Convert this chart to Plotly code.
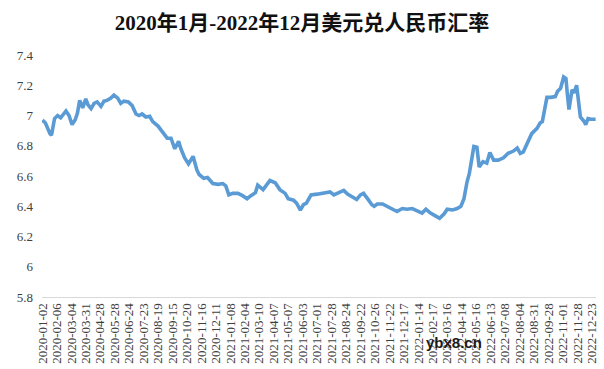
import plotly.graph_objects as go

# Tick labels (every 19th trading day)
tick_dates = [
    "2020-01-02", "2020-02-06", "2020-03-04", "2020-03-31", "2020-04-28", "2020-05-28",
    "2020-06-24", "2020-07-23", "2020-08-19", "2020-09-15", "2020-10-20", "2020-11-16",
    "2020-12-11", "2021-01-08", "2021-02-04", "2021-03-10", "2021-04-07", "2021-05-07",
    "2021-06-03", "2021-07-01", "2021-07-28", "2021-08-24", "2021-09-22", "2021-10-26",
    "2021-11-22", "2021-12-17", "2022-01-14", "2022-02-17", "2022-03-16", "2022-04-14",
    "2022-05-16", "2022-06-13", "2022-07-08", "2022-08-04", "2022-08-31", "2022-09-28",
    "2022-11-01", "2022-11-28", "2022-12-23",
]
tick_step = 19

# Trading-day index and USD/CNY rate
day_idx = [
    0, 4, 10, 12, 16, 20, 24, 31, 35, 39, 43, 46, 49, 53, 57, 60, 64, 68, 72, 77,
    81, 85, 90, 94, 99, 103, 107, 113, 118, 123, 127, 131, 136, 141, 145, 152, 158, 164, 169, 174,
    179, 182, 187, 192, 198, 203, 206, 212, 217, 224, 231, 237, 241, 245, 250, 257, 263, 269, 274, 280,
    283, 290, 293, 299, 306, 312, 319, 323, 330, 334, 339, 343, 347, 353, 361, 367, 374, 378, 383, 389,
    396, 401, 407, 413, 418, 422, 428, 433, 436, 440, 447, 453, 460, 466, 473, 479, 486, 493, 499, 504,
    510, 517, 522, 528, 532, 539, 545, 550, 554, 558, 561, 564, 567, 571, 574, 579, 584, 588, 593, 599,
    606, 612, 619, 624, 628, 632, 637, 643, 650, 654, 657, 660, 663, 668, 674, 677, 681, 685, 688, 690,
    692, 696, 699, 702, 704, 707, 712, 714, 717, 721, 727,
]
rate = [
    6.97, 6.95, 6.88, 6.87, 6.98, 7.00, 6.985, 7.03, 7.00, 6.94, 6.97, 7.015, 7.10, 7.05, 7.11, 7.07, 7.045, 7.08, 7.09, 7.06,
    7.095, 7.10, 7.115, 7.135, 7.115, 7.08, 7.095, 7.09, 7.065, 7.01, 7.00, 7.01, 6.99, 6.995, 6.96, 6.93, 6.89, 6.85, 6.85, 6.78,
    6.83, 6.78, 6.72, 6.68, 6.73, 6.64, 6.61, 6.585, 6.59, 6.55, 6.545, 6.55, 6.535, 6.475, 6.485, 6.485, 6.47, 6.45, 6.47, 6.49,
    6.54, 6.51, 6.53, 6.57, 6.555, 6.51, 6.485, 6.45, 6.44, 6.42, 6.375, 6.41, 6.42, 6.475, 6.48, 6.485, 6.49, 6.495, 6.475, 6.49,
    6.505, 6.48, 6.465, 6.445, 6.475, 6.485, 6.445, 6.41, 6.40, 6.415, 6.415, 6.40, 6.385, 6.365, 6.385, 6.38, 6.385, 6.37, 6.355, 6.38,
    6.355, 6.335, 6.32, 6.35, 6.38, 6.375, 6.385, 6.40, 6.45, 6.56, 6.615, 6.705, 6.795, 6.79, 6.66, 6.695, 6.685, 6.755, 6.705, 6.705,
    6.72, 6.75, 6.765, 6.785, 6.75, 6.76, 6.82, 6.88, 6.915, 6.95, 6.96, 7.05, 7.12, 7.12, 7.125, 7.16, 7.18, 7.255, 7.245, 7.135,
    7.04, 7.17, 7.15, 7.20, 7.115, 6.99, 6.96, 6.94, 6.98, 6.975, 6.975,
]

y_ticks = [5.8, 6.0, 6.2, 6.4, 6.6, 6.8, 7.0, 7.2, 7.4]
y_tick_text = ["5.8", "6", "6.2", "6.4", "6.6", "6.8", "7", "7.2", "7.4"]

title_text = "2020年1月-2022年12月美元兑人民币汇率"

L, R, T, B = 42, 8, 55, 72
W, H = 604, 369

fig = go.Figure()
fig.add_trace(go.Scatter(
    x=day_idx, y=rate, mode="lines",
    line=dict(color="#5B9BD5", width=3.6),
    hoverinfo="skip", showlegend=False,
))

fig.update_layout(
    width=W, height=H,
    margin=dict(l=L, r=R, t=T, b=B),
    paper_bgcolor="white", plot_bgcolor="white",
    title=dict(
        text="<b>" + title_text + "</b>",
        x=0.5, xanchor="center", y=1 - 23 / H, yanchor="middle",
        font=dict(family="Liberation Serif, Noto Sans CJK SC", size=21, color="#111111"),
    ),
    font=dict(family="Liberation Serif, Noto Sans CJK SC", color="#404040"),
    showlegend=False,
)

fig.update_xaxes(
    range=[-0.5, 727.5],
    tickmode="array",
    tickvals=[i * tick_step for i in range(len(tick_dates))],
    ticktext=tick_dates,
    tickangle=-90,
    tickfont=dict(size=13, color="#404040", family="Liberation Serif"),
    showgrid=False, zeroline=False,
    showline=True, linecolor="#D9D9D9", linewidth=1,
    ticks="", automargin=False,
)
fig.update_yaxes(
    range=[5.8, 7.4],
    tickmode="array", tickvals=y_ticks, ticktext=y_tick_text,
    tickfont=dict(size=13, color="#404040", family="Liberation Serif"),
    showgrid=False, zeroline=False, showline=False, ticks="",
    ticklabelstandoff=8, automargin=False,
)

# watermark text present on the reference image
fig.add_annotation(
    text="<b>ybx8.cn</b>",
    x=(454 - L) / (W - L - R), y=(H - B - 342) / (H - T - B),
    xref="paper", yref="paper", xanchor="center", yanchor="middle",
    showarrow=False,
    font=dict(family="Liberation Sans", size=15, color="#1a1a1a"),
)

fig.write_html("out.html")
